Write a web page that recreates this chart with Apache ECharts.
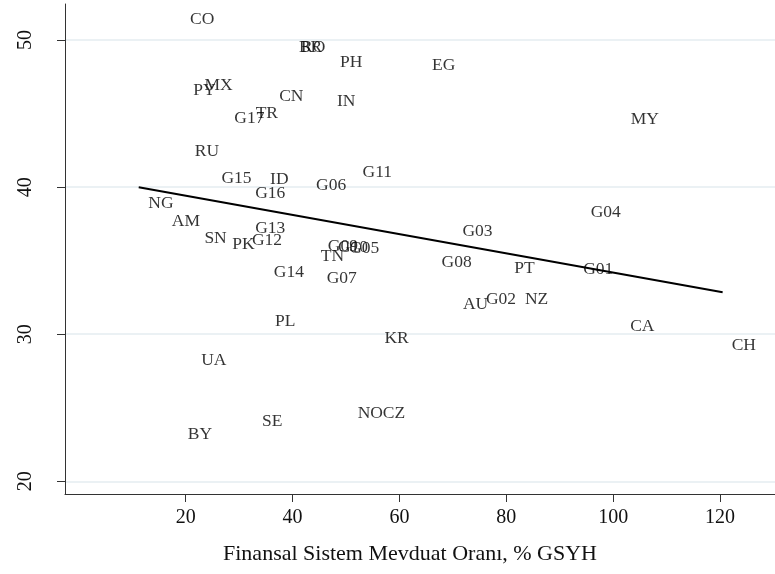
<!DOCTYPE html>
<html>
<head>
<meta charset="utf-8">
<script src="https://cdn.jsdelivr.net/npm/echarts@6/dist/echarts.min.js"></script>
<style>
  html, body { margin: 0; padding: 0; background: #fff; }
  #main { width: 775px; height: 574px; }
</style>
</head>
<body>
<div id="main"></div>
<script>
// country / group codes and their values
var codes = ['CO', 'BR', 'RO', 'PH', 'EG', 'PY', 'MX', 'CN', 'IN', 'G17', 'TR', 'MY',
  'RU', 'G15', 'ID', 'G06', 'G11', 'G16', 'NG', 'AM', 'G13', 'SN', 'PK', 'G12',
  'G09', 'G10', 'G05', 'TN', 'G14', 'G07', 'G03', 'G08', 'PT', 'AU', 'G02', 'NZ',
  'G01', 'G04', 'CA', 'CH', 'PL', 'KR', 'UA', 'SE', 'NO', 'CZ', 'BY'];
var deposits = [19.2, 39.6, 40.0, 47.3, 64.5, 19.8, 21.9, 35.9, 46.7, 27.5, 31.5, 101.7,
  20.1, 25.1, 34.2, 42.8, 51.5, 31.4, 11.4, 15.8, 31.4, 21.9, 27.1, 30.8,
  45.0, 46.9, 49.0, 43.7, 34.9, 44.8, 70.2, 66.3, 79.9, 70.3, 74.6, 81.9,
  92.8, 94.2, 101.6, 120.6, 35.1, 55.6, 21.3, 32.7, 50.6, 55.3, 18.8];
var yvals = [51.4, 49.5, 49.5, 48.5, 48.3, 46.6, 46.9, 46.2, 45.8, 44.7, 45.0, 44.6,
  42.4, 40.6, 40.5, 40.1, 41.0, 39.6, 38.9, 37.7, 37.2, 36.5, 36.1, 36.4,
  35.95, 35.9, 35.85, 35.3, 34.2, 33.8, 37.0, 34.9, 34.5, 32.0, 32.4, 32.4,
  34.4, 38.3, 30.5, 29.25, 30.9, 29.7, 28.2, 24.1, 24.65, 24.65, 23.2];
// fitted line end points
var fitX = [11.2, 120.5];
var fitY = [40.0, 32.86];
var xTicks = [20, 40, 60, 80, 100, 120];
var yTicks = [20, 30, 40, 50];

var pts = codes.map(function (c, i) { return { value: [deposits[i], yvals[i]], name: c }; });
var fit = fitX.map(function (x, i) { return [x, fitY[i]]; });

var font = '"Liberation Serif", "DejaVu Serif", serif';
var chart = echarts.init(document.getElementById('main'));
var option = {
  animation: false,
  grid: { left: 65, right: 0, top: 4, bottom: 80 },
  xAxis: {
    type: 'value',
    min: -2.6,
    max: 130.3,
    name: 'Finansal Sistem Mevduat Oranı, % GSYH',
    nameLocation: 'middle',
    nameGap: 49,
    nameTextStyle: { fontFamily: font, fontSize: 22, color: '#111', padding: [0, 20, 0, 0] },
    axisLine: { show: true, onZero: false, lineStyle: { color: '#333', width: 1 } },
    axisTick: { show: true, length: 8, customValues: xTicks, lineStyle: { color: '#333' } },
    axisLabel: { customValues: xTicks, margin: 14, fontFamily: font, fontSize: 20, color: '#111' },
    splitLine: { show: false }
  },
  yAxis: {
    type: 'value',
    min: 19.14,
    max: 52.45,
    axisLine: { show: true, onZero: false, lineStyle: { color: '#333', width: 1 } },
    axisTick: { show: true, length: 8, customValues: yTicks, lineStyle: { color: '#333' } },
    axisLabel: { customValues: yTicks, rotate: 90, margin: 29, fontFamily: font, fontSize: 20, color: '#111' },
    splitLine: { show: true, lineStyle: { color: '#e4edf0', width: 1.5 } }
  },
  series: [
    {
      type: 'scatter',
      data: pts,
      symbolSize: 1,
      itemStyle: { color: 'rgba(0,0,0,0)' },
      label: {
        show: true,
        position: 'right',
        distance: 8,
        formatter: '{b}',
        fontFamily: font,
        fontSize: 17.5,
        color: '#000'
      }
    },
    {
      type: 'line',
      data: fit,
      symbol: 'none',
      lineStyle: { color: '#000', width: 2 }
    }
  ]
};
chart.setOption(option);
</script>
</body>
</html>
